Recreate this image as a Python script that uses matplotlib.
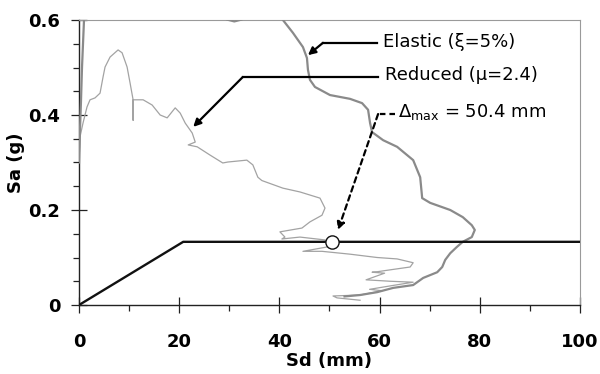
import matplotlib
matplotlib.use("Agg")
import matplotlib.pyplot as plt
from matplotlib.ticker import MultipleLocator

# ---- data ----
# Elastic demand spectrum (xi = 5%)
elastic_sd = [0.0, 0.2, 0.4, 0.6, 0.8, 1.0, 1.3, 10.0, 28.0, 29.5, 31.0, 32.5, 34.0, 39.0,
              40.7, 42.7, 44.7, 45.5, 45.7, 46.1, 47.1, 50.1, 54.1, 56.5, 57.7, 58.1, 58.5,
              60.7, 63.5, 66.7, 68.1, 68.5, 70.1, 74.1, 76.6, 78.4, 79.0, 78.4, 76.6, 75.4,
              74.1, 73.1, 72.5, 71.5, 68.7, 66.7, 62.7, 59.5, 56.1, 53.0]
elastic_sa = [0.30, 0.37, 0.43, 0.50, 0.55, 0.60, 0.70, 0.95, 0.65, 0.601, 0.597, 0.601, 0.65, 0.70,
              0.600, 0.573, 0.543, 0.520, 0.495, 0.474, 0.459, 0.442, 0.434, 0.425, 0.411, 0.383, 0.364,
              0.347, 0.333, 0.305, 0.269, 0.225, 0.215, 0.200, 0.185, 0.168, 0.158, 0.143, 0.133, 0.122,
              0.109, 0.095, 0.080, 0.069, 0.057, 0.042, 0.036, 0.027, 0.021, 0.018]

# Reduced (inelastic) demand spectrum (mu = 2.4)
reduced_sd = [0.0, 0.2, 0.8, 1.6, 2.2, 3.2, 4.2, 4.8, 5.2, 6.2, 7.8, 8.6, 9.6, 10.2, 10.8,
              10.8, 10.8, 12.8, 14.6, 16.2, 17.6, 19.2, 20.2, 21.2, 22.6, 23.2, 21.8, 23.6,
              26.1, 28.7, 29.7, 33.5, 34.7, 35.7, 36.5, 40.7, 44.1, 48.1, 49.1, 48.5, 46.1,
              44.5, 40.1, 41.1, 40.5, 44.1, 49.1, 50.4, 51.0, 44.7, 48.5, 54.1, 59.5, 63.5,
              66.7, 66.1, 62.1, 59.5, 58.5, 61.0, 57.3, 62.1, 66.7, 62.0, 58.0, 60.5, 56.1,
              50.7, 51.5, 56.1]
reduced_sa = [0.300, 0.354, 0.383, 0.417, 0.432, 0.436, 0.446, 0.480, 0.501, 0.522, 0.537, 0.531,
              0.501, 0.467, 0.432, 0.389, 0.432, 0.432, 0.421, 0.400, 0.394, 0.415, 0.404, 0.383,
              0.362, 0.343, 0.337, 0.333, 0.316, 0.299, 0.301, 0.305, 0.295, 0.269, 0.262, 0.246,
              0.238, 0.225, 0.204, 0.189, 0.175, 0.162, 0.154, 0.143, 0.139, 0.143, 0.137, 0.133,
              0.125, 0.113, 0.113, 0.107, 0.100, 0.097, 0.089, 0.080, 0.074, 0.070, 0.069, 0.067,
              0.053, 0.050, 0.048, 0.040, 0.033, 0.030, 0.021, 0.019, 0.015, 0.010]

# Bilinear capacity curve
capacity_sd = [0.0, 20.8, 100.0]
capacity_sa = [0.0, 0.133, 0.133]

# Performance point
perf_sd = 50.4
perf_sa = 0.133

x_ticks = [0, 20, 40, 60, 80, 100]
y_ticks = [0, 0.2, 0.4, 0.6]
y_tick_labels = ["0", "0.2", "0.4", "0.6"]

plt.rcParams['font.family'] = ['DejaVu Sans']
plt.rcParams['mathtext.fontset'] = 'dejavusans'

fig = plt.figure(figsize=(6.0, 3.74), dpi=100)
ax = fig.add_axes([79/600, 1-305/374, (580-79)/600, (305-20)/374])

ax.plot(reduced_sd, reduced_sa, color='#a3a3a3', lw=0.9, zorder=2)
ax.plot(elastic_sd, elastic_sa, color='#8a8a8a', lw=1.6, zorder=3)
ax.plot(capacity_sd, capacity_sa, color='#111111', lw=1.7, zorder=4)
ax.plot([perf_sd], [perf_sa], marker='o', ms=9.5, mfc='white', mec='#111111', mew=1.0,
        zorder=6, clip_on=False)

ax.set_xlim(0, 100)
ax.set_ylim(0, 0.6)
ax.set_xticks(x_ticks)
ax.set_yticks(y_ticks)
ax.set_yticklabels(y_tick_labels)
ax.xaxis.set_minor_locator(MultipleLocator(10))
ax.yaxis.set_minor_locator(MultipleLocator(0.05))

ax.tick_params(which='major', direction='inout', length=11, width=0.9, color='#222222')
ax.tick_params(which='minor', direction='out', length=4.5, width=0.9, color='#222222')
ax.tick_params(axis='x', which='major', pad=15)
ax.tick_params(axis='y', which='major', pad=8)
for lab in ax.get_xticklabels() + ax.get_yticklabels():
    lab.set_fontweight('bold')
    lab.set_fontsize(13)

for s in ['left', 'bottom']:
    ax.spines[s].set_color('#222222')
    ax.spines[s].set_linewidth(1.0)
for s in ['top', 'right']:
    ax.spines[s].set_color('#9a9a9a')
    ax.spines[s].set_linewidth(0.8)

ax.set_xlabel('Sd (mm)', fontsize=13, fontweight='bold')
ax.set_ylabel('Sa (g)', fontsize=13, fontweight='bold')
ax.xaxis.set_label_coords(0.5, -0.165)
ax.yaxis.set_label_coords(-0.108, 0.5)

# annotations
ax.plot([59.5, 48.7], [0.552, 0.552], color='black', lw=1.6, zorder=5)
ax.annotate('', xy=(45.7, 0.526), xytext=(48.7, 0.552),
            arrowprops=dict(arrowstyle='-|>', color='black', lw=1.6,
                            mutation_scale=11, shrinkA=0, shrinkB=0), zorder=5)
ax.text(60.7, 0.554, 'Elastic (ξ=5%)', fontsize=13, va='center', ha='left')

ax.plot([59.7, 32.7], [0.480, 0.480], color='black', lw=1.6, zorder=5)
ax.annotate('', xy=(22.8, 0.375), xytext=(32.7, 0.480),
            arrowprops=dict(arrowstyle='-|>', color='black', lw=1.6,
                            mutation_scale=11, shrinkA=0, shrinkB=0), zorder=5)
ax.text(61.1, 0.484, 'Reduced (μ=2.4)', fontsize=13, va='center', ha='left')

ax.plot([63.1, 59.7], [0.402, 0.402], color='black', lw=1.6, ls=(0, (2.5, 1.8)), zorder=5)
ax.annotate('', xy=(51.7, 0.158), xytext=(59.7, 0.402),
            arrowprops=dict(arrowstyle='-|>', color='black', lw=1.6, ls=(0, (2.5, 1.8)),
                            mutation_scale=11, shrinkA=0, shrinkB=0), zorder=5)
ax.text(63.7, 0.407, r'$\mathregular{\Delta_{max}}$ = 50.4 mm', fontsize=13,
        va='center', ha='left')

fig.savefig('out.png', dpi=100)
